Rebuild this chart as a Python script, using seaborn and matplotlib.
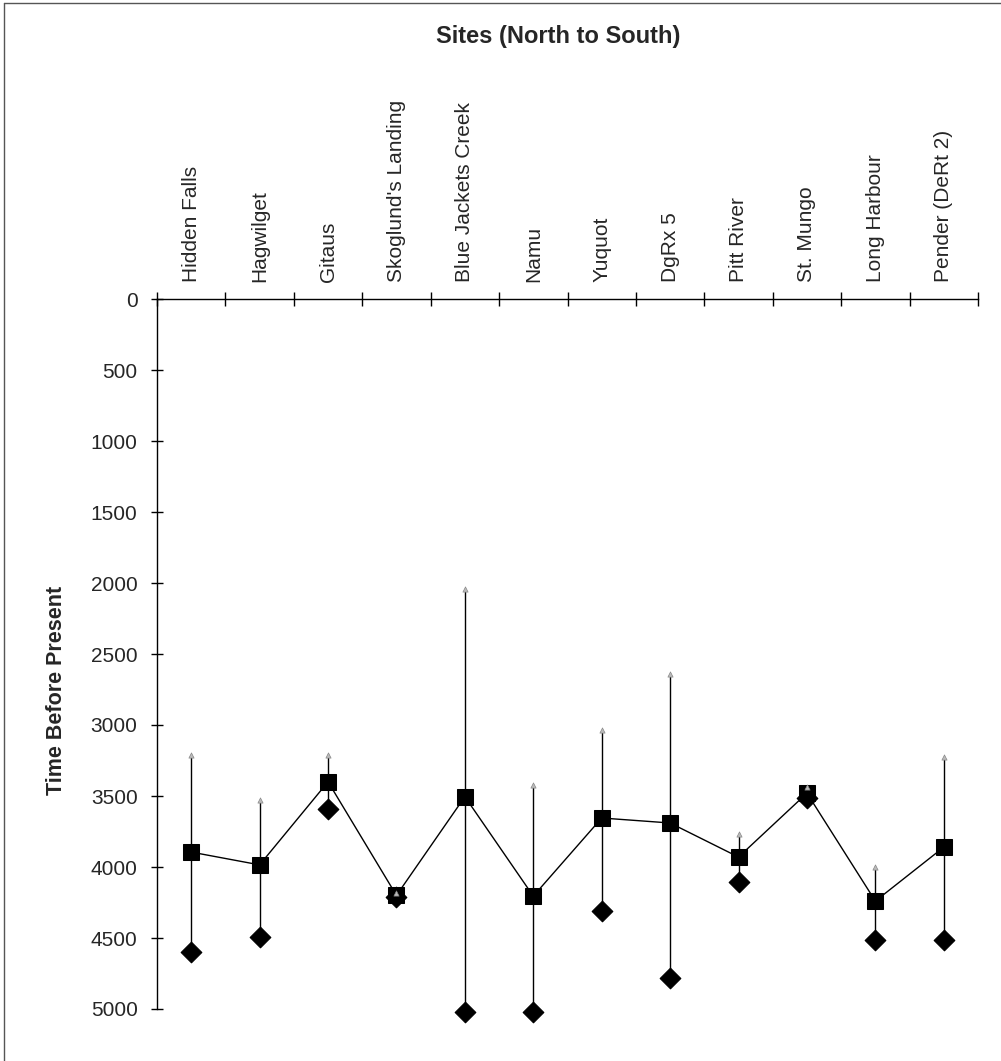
import matplotlib
matplotlib.use("Agg")
import matplotlib.pyplot as plt
from matplotlib.lines import Line2D
import seaborn as sns
import numpy as np
import pandas as pd

sites = ["Hidden Falls", "Hagwilget", "Gitaus", "Skoglund's Landing",
         "Blue Jackets Creek", "Namu", "Yuquot", "DgRx 5", "Pitt River",
         "St. Mungo", "Long Harbour", "Pender (DeRt 2)"]
upper = [3210, 3530, 3210, 4180, 2040, 3420, 3035, 2640, 3770, 3440, 4000, 3225]
mean = [3895, 3985, 3400, 4200, 3505, 4205, 3655, 3690, 3930, 3480, 4240, 3860]
lower = [4600, 4495, 3590, 4210, 5020, 5020, 4310, 4780, 4105, 3515, 4515, 4515]
yticks = [0, 500, 1000, 1500, 2000, 2500, 3000, 3500, 4000, 4500, 5000]

sns.set_theme(style="white")
plt.rcParams['font.family'] = ['Liberation Sans', 'DejaVu Sans']

df = pd.DataFrame({"pos": np.arange(len(sites)), "site": sites,
                   "upper": upper, "mean": mean, "lower": lower})

fig = plt.figure(figsize=(10.01, 10.61), dpi=100)
ax = fig.add_axes([157/1001, 1-1009/1061, (978-157)/1001, (1009-299)/1061])

ax.vlines(df["pos"], df["upper"], df["lower"], color="black", linewidth=1.0,
          zorder=1, clip_on=False)
sns.lineplot(data=df, x="pos", y="mean", ax=ax, color="black", linewidth=1.0,
             marker="s", markersize=11, markeredgecolor="black", markerfacecolor="black",
             zorder=3, sort=False, clip_on=False)
sns.scatterplot(data=df, x="pos", y="lower", ax=ax, marker="D", s=110,
                color="black", edgecolor="black", zorder=2, clip_on=False)
sns.scatterplot(data=df, x="pos", y="upper", ax=ax, marker="^", s=14,
                color="#bbbbbb", edgecolor="#888888", linewidth=0.5, zorder=4,
                clip_on=False)

ax.set_xlim(-0.5, len(sites) - 0.5)
ax.set_ylim(5000, 0)
ax.set_yticks(yticks)
ax.set_yticklabels([str(v) for v in yticks], fontsize=15)

ax.xaxis.tick_top()
ax.set_xticks(df["pos"])
ax.set_xticklabels(sites, rotation=90, fontsize=15)
ax.set_xticks(np.arange(-0.5, len(sites)), minor=True)
ax.tick_params(axis="x", which="major", length=0, pad=12, top=True, bottom=False)
ax.tick_params(axis="x", which="minor", length=10, direction="inout", width=1,
               color="black", top=True, bottom=False)
ax.tick_params(axis="y", which="major", length=8, direction="inout", width=1,
               color="black", pad=10, left=True)
ax.set_xlabel("")
ax.set_ylabel("")

for side in ["right", "bottom"]:
    ax.spines[side].set_visible(False)
for side in ["left", "top"]:
    ax.spines[side].set_color("black")
    ax.spines[side].set_linewidth(1.0)

fig.text(558/1001, 1-36/1061, "Sites (North to South)", ha="center", va="center",
         fontsize=17, fontweight="bold")
fig.text(57/1001, 1-690/1061, "Time Before Present", ha="center", va="center",
         rotation=90, fontsize=15.5, fontweight="bold")

fig.add_artist(Line2D([4/1001, 1.0], [1-3/1061, 1-3/1061], color="#555555", linewidth=1.0))
fig.add_artist(Line2D([4/1001, 4/1001], [0, 1-3/1061], color="#555555", linewidth=1.0))

fig.savefig("out.png", dpi=100)
